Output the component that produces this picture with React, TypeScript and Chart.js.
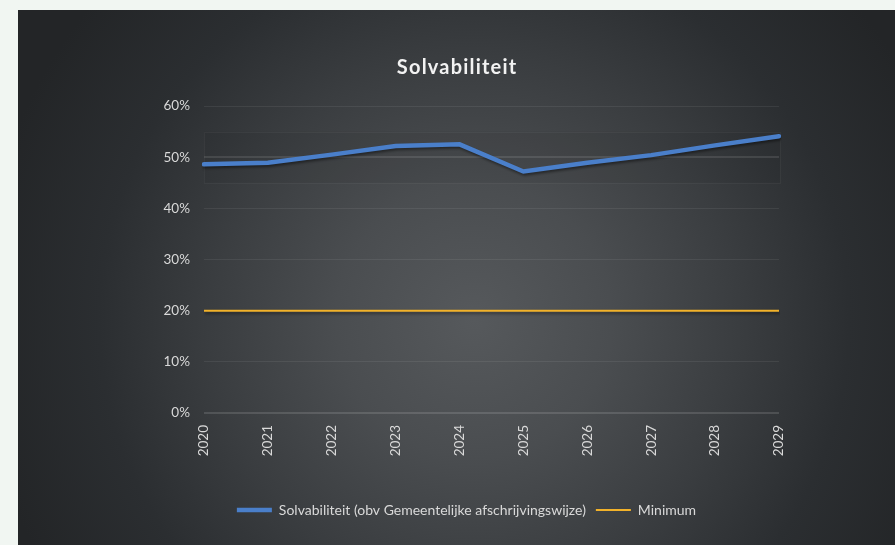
import React, { useEffect, useRef } from "react";
import { Chart, registerables } from "chart.js";

Chart.register(...registerables);

const years = ["2020", "2021", "2022", "2023", "2024", "2025", "2026", "2027", "2028", "2029"];
const solvabiliteit = [48.6, 48.9, 50.5, 52.2, 52.5, 47.2, 48.9, 50.4, 52.3, 54.1];
const minimum = [20, 20, 20, 20, 20, 20, 20, 20, 20, 20];
const yTicks = [0, 10, 20, 30, 40, 50, 60];
const titleText = "Solvabiliteit";

const FONT = "Lato, 'Open Sans', sans-serif";

const shadowPlugin = {
  id: "lineShadow",
  beforeDatasetDraw(chart: any) {
    const ctx = chart.ctx;
    ctx.save();
    ctx.shadowColor = "rgba(0,0,0,0.45)";
    ctx.shadowBlur = 3;
    ctx.shadowOffsetY = 2;
    ctx.shadowOffsetX = 1;
  },
  afterDatasetDraw(chart: any) {
    chart.ctx.restore();
  },
};

const bandPlugin = {
  id: "band",
  beforeDatasetsDraw(chart: any) {
    const { ctx, chartArea, scales } = chart;
    const y = scales.y;
    const top = y.getPixelForValue(55);
    const bottom = y.getPixelForValue(45);
    ctx.save();
    ctx.fillStyle = "rgba(0,0,0,0.045)";
    ctx.fillRect(chartArea.left, top, chartArea.right - chartArea.left + 1, bottom - top);
    ctx.strokeStyle = "rgba(255,255,255,0.04)";
    ctx.lineWidth = 1;
    ctx.strokeRect(chartArea.left + 0.5, Math.round(top) + 0.5, chartArea.right - chartArea.left + 1, Math.round(bottom - top));
    ctx.restore();
  },
};

const spacedTitlePlugin = {
  id: "spacedTitle",
  afterDraw(chart: any) {
    const ctx = chart.ctx;
    ctx.save();
    (ctx as any).letterSpacing = "1.2px";
    ctx.font = `bold 20px ${FONT}`;
    ctx.fillStyle = "#f2f2f2";
    ctx.textAlign = "center";
    ctx.textBaseline = "middle";
    ctx.fillText(titleText, chart.width / 2 + 0.6, 58);
    ctx.restore();
  },
};

export default function App() {
  const canvasRef = useRef<HTMLCanvasElement | null>(null);

  useEffect(() => {
    if (!canvasRef.current) return;
    const chart = new Chart(canvasRef.current, {
      type: "line",
      data: {
        labels: years,
        datasets: [
          {
            label: "Solvabiliteit (obv Gemeentelijke afschrijvingswijze)",
            data: solvabiliteit,
            borderColor: "#4a7fca",
            backgroundColor: "#4a7fca",
            borderWidth: 4.5,
            pointRadius: 0,
            tension: 0,
            borderCapStyle: "round",
            pointStyle: "line",
          },
          {
            label: "Minimum",
            data: minimum,
            borderColor: "#f2b22a",
            backgroundColor: "#f2b22a",
            borderWidth: 2,
            pointRadius: 0,
            tension: 0,
            pointStyle: "line",
          },
        ],
      },
      options: {
        animation: false,
        responsive: true,
        maintainAspectRatio: false,
        layout: { padding: { left: 136, right: 116, top: 96, bottom: 18 } },
        plugins: {
          title: { display: false },
          legend: {
            position: "bottom",
            labels: {
              color: "#d9d9d9",
              font: { family: FONT, size: 14 },
              usePointStyle: true,
              pointStyleWidth: 35,
              boxHeight: 13,
              padding: 10,
            },
          },
          tooltip: { enabled: false },
        },
        scales: {
          x: {
            offset: false,
            grid: { display: false, drawTicks: false },
            border: { display: false },
            ticks: {
              color: "#d9d9d9",
              font: { family: FONT, size: 13.5 },
              minRotation: 90,
              maxRotation: 90,
              padding: 12,
              autoSkip: false,
            },
            afterFit(scale: any) {
              scale.height = 80;
            },
          },
          y: {
            min: 0,
            max: 60,
            afterBuildTicks(scale: any) {
              scale.ticks = yTicks.map((v) => ({ value: v }));
            },
            grid: {
              drawTicks: false,
              color: (c: any) =>
                c.tick && c.tick.value === 0
                  ? "rgba(255,255,255,0.13)"
                  : c.tick && c.tick.value === 50
                  ? "rgba(255,255,255,0.11)"
                  : "rgba(255,255,255,0.07)",
              lineWidth: (c: any) => (c.tick && (c.tick.value === 0 || c.tick.value === 50) ? 2 : 1),
            },
            border: { display: false },
            ticks: {
              color: "#d9d9d9",
              font: { family: FONT, size: 13.5 },
              padding: 14,
              callback: (v: any) => v + "%",
            },
            afterFit(scale: any) {
              scale.width = 50;
            },
          },
        },
      },
      plugins: [bandPlugin, shadowPlugin, spacedTitlePlugin],
    });
    return () => chart.destroy();
  }, []);

  return (
    <div style={{ position: "fixed", inset: 0, background: "#f1f6f2" }}>
      <div
        style={{
          position: "absolute",
          left: 18,
          top: 10,
          width: 877,
          height: 535,
          background:
            "radial-gradient(circle at 52% 58%, #56595c 0%, #4a4d50 25%, #3a3d40 48%, #2b2e31 68%, #232527 90%)",
        }}
      >
        <canvas ref={canvasRef} />
      </div>
    </div>
  );
}
